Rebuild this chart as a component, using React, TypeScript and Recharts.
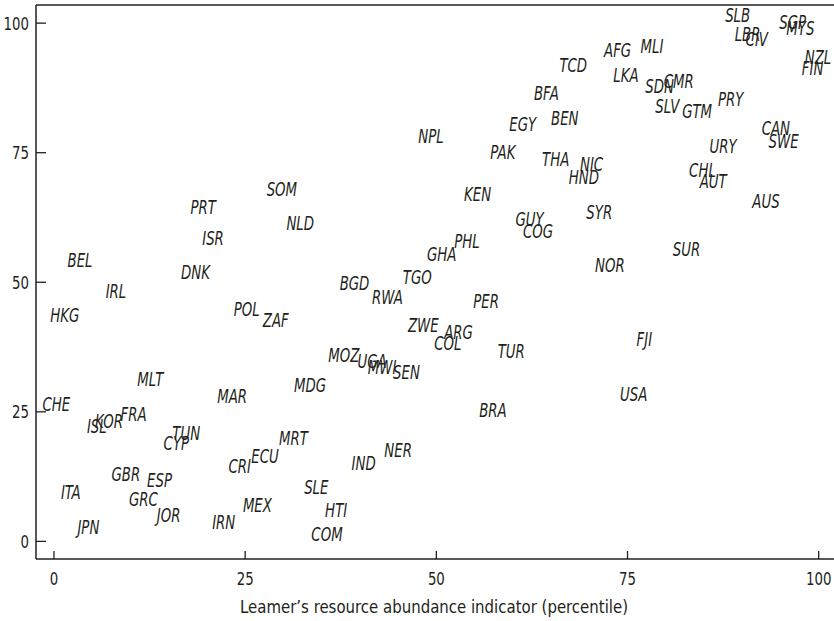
import {
  ScatterChart,
  Scatter,
  XAxis,
  YAxis,
  ReferenceLine,
} from "recharts";

// country codes with (resource abundance percentile, y percentile)
const codes = [
  "BEL", "IRL", "PRT", "ISR", "DNK", "SOM", "NPL", "EGY", "PAK", "BFA",
  "KEN", "NLD", "GUY", "COG", "PHL", "GHA", "TGO", "BGD", "RWA", "PER",
  "ZWE", "ARG", "COL", "TUR", "MOZ", "UGA", "MWI", "SEN", "MDG", "BRA",
  "MRT", "NER", "IND", "SLE", "HTI", "COM", "HKG", "POL", "ZAF", "MLT",
  "MAR", "CHE", "ISL", "KOR", "FRA", "TUN", "CYP", "CRI", "ECU", "GBR",
  "ESP", "ITA", "GRC", "JOR", "IRN", "MEX", "JPN", "SLB", "LBR", "CIV",
  "SGP", "MYS", "NZL", "FIN", "AFG", "MLI", "TCD", "LKA", "SDN", "CMR",
  "PRY", "SLV", "GTM", "BEN", "CAN", "SWE", "URY", "THA", "NIC", "HND",
  "CHL", "AUT", "AUS", "SYR", "SUR", "NOR", "FJI", "USA",
];
const xValues = [
  3.4, 8.1, 19.5, 20.8, 18.5, 29.8, 49.3, 61.3, 58.7, 64.4,
  55.4, 32.2, 62.2, 63.3, 54.0, 50.7, 47.5, 39.3, 43.6, 56.5,
  48.3, 52.9, 51.5, 59.8, 37.9, 41.6, 42.9, 46.1, 33.5, 57.4,
  31.3, 45.0, 40.5, 34.3, 36.9, 35.7, 1.4, 25.2, 29.0, 12.6,
  23.3, 0.3, 5.6, 7.2, 10.4, 17.3, 16.0, 24.3, 27.6, 9.4,
  13.8, 2.2, 11.7, 15.0, 22.2, 26.6, 4.5, 89.4, 90.7, 91.9,
  96.6, 97.6, 99.9, 99.2, 73.7, 78.2, 67.9, 74.8, 79.2, 81.7,
  88.5, 80.2, 84.1, 66.8, 94.4, 95.4, 87.5, 65.6, 70.3, 69.3,
  84.8, 86.2, 93.1, 71.3, 82.7, 72.7, 77.2, 75.8,
];
const yValues = [
  54.3, 48.4, 64.6, 58.6, 51.9, 68.0, 78.3, 80.5, 75.1, 86.6,
  67.1, 61.4, 62.2, 59.9, 58.0, 55.4, 51.1, 49.8, 47.1, 46.4,
  41.7, 40.4, 38.3, 36.8, 36.0, 34.9, 33.6, 32.7, 30.1, 25.3,
  19.9, 17.6, 15.1, 10.5, 6.1, 1.4, 43.6, 44.9, 42.8, 31.3,
  28.0, 26.6, 22.2, 23.3, 24.5, 21.0, 18.9, 14.5, 16.5, 13.0,
  11.9, 9.5, 8.2, 5.0, 3.7, 7.1, 2.8, 101.5, 98.0, 97.0,
  100.2, 99.0, 93.5, 91.3, 94.8, 95.5, 92.0, 89.9, 87.9, 88.8,
  85.3, 84.1, 83.1, 81.7, 79.7, 77.2, 76.3, 73.7, 72.9, 70.4,
  71.6, 69.5, 65.7, 63.6, 56.5, 53.3, 39.1, 28.5,
];
const axisTicks = [0, 25, 50, 75, 100];
const xTitle = "Leamer’s resource abundance indicator (percentile)";

const points = codes.map((code, i) => ({ code, x: xValues[i], y: yValues[i] }));

const INK = "#231f20";
const FONT = "'Liberation Sans Narrow', 'DejaVu Sans Condensed', 'Roboto', sans-serif";
const X_DOMAIN = [-2.35, 102];
const Y_DOMAIN = [-3.4, 103.5];

function CountryLabel(props: any) {
  const { cx, cy, payload } = props;
  if (cx == null || cy == null) return null;
  return (
    <text
      transform={`translate(${cx},${cy}) scale(0.78,1)`}
      x={0}
      y={0}
      dy={7}
      textAnchor="middle"
      fontFamily={FONT}
      fontStyle="italic"
      fontSize={19}
      fill={INK}
    >
      {payload.code}
    </text>
  );
}

function XTick(props: any) {
  const { x, y, payload } = props;
  return (
    <g>
      <line x1={x} x2={x} y1={y} y2={y - 8} stroke={INK} strokeWidth={1.3} />
      <text
        transform={`translate(${x},${y + 26}) scale(0.8,1)`}
        textAnchor="middle"
        fontFamily={FONT}
        fontSize={18.5}
        fill={INK}
      >
        {payload.value}
      </text>
    </g>
  );
}

function YTick(props: any) {
  const { x, y, payload } = props;
  return (
    <g>
      <line x1={x} x2={x + 10} y1={y} y2={y} stroke={INK} strokeWidth={1.3} />
      <text
        transform={`translate(${x - 7},${y + 6.5}) scale(0.8,1)`}
        textAnchor="end"
        fontFamily={FONT}
        fontSize={18.5}
        fill={INK}
      >
        {payload.value}
      </text>
    </g>
  );
}

function XTitle(props: any) {
  const vb = props.viewBox || {};
  const cx = (vb.x ?? 36) + (vb.width ?? 798) / 2 - 1;
  return (
    <text
      x={cx}
      y={613}
      textAnchor="middle"
      fontFamily={FONT}
      fontSize={18}
      fill={INK}
      textLength={388}
      lengthAdjust="spacingAndGlyphs"
    >
      {xTitle}
    </text>
  );
}

export default function App() {
  return (
    <div style={{ position: "absolute", left: 0, top: 0, background: "#fff" }}>
      <ScatterChart
        width={834}
        height={621}
        margin={{ top: 5, right: 0, bottom: 0, left: 0 }}
      >
        <XAxis
          type="number"
          dataKey="x"
          domain={X_DOMAIN}
          allowDataOverflow
          ticks={axisTicks}
          tick={<XTick />}
          tickLine={false}
          tickSize={0}
          tickMargin={0}
          height={62}
          axisLine={{ stroke: INK, strokeWidth: 1.5 }}
          label={<XTitle />}
        />
        <YAxis
          type="number"
          dataKey="y"
          domain={Y_DOMAIN}
          allowDataOverflow
          ticks={axisTicks}
          tick={<YTick />}
          tickLine={false}
          tickSize={0}
          tickMargin={0}
          width={36}
          axisLine={{ stroke: INK, strokeWidth: 1.5 }}
        />
        <ReferenceLine y={Y_DOMAIN[1]} stroke={INK} strokeWidth={1.5} />
        <Scatter data={points} shape={<CountryLabel />} isAnimationActive={false} />
      </ScatterChart>
    </div>
  );
}
